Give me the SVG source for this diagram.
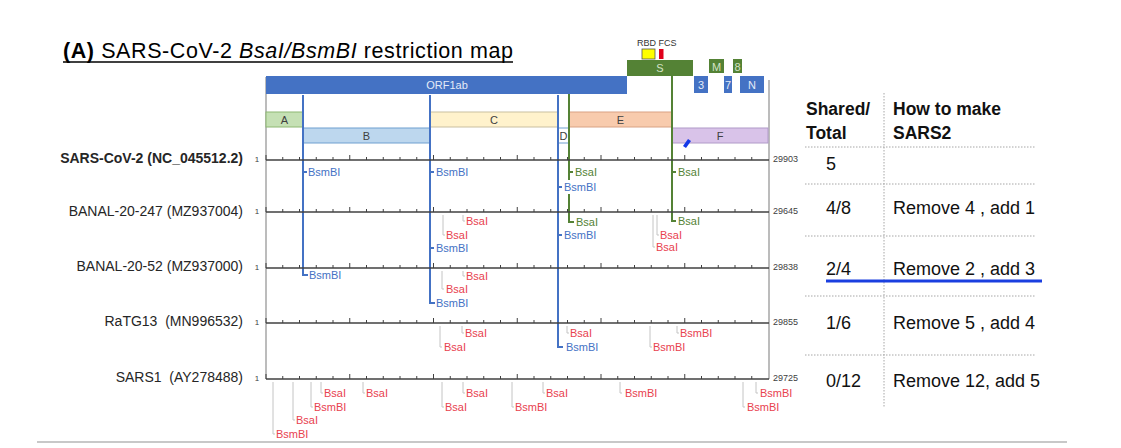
<svg xmlns="http://www.w3.org/2000/svg" xmlns:xlink="http://www.w3.org/1999/xlink" width="1121" height="448" viewBox="0 0 1121 448">
<style>
text{font-family:"Liberation Sans",Arial,sans-serif}
.site{font-size:11px}
.b{fill:#4472C4}
.g{fill:#548235}
.r{fill:#E8424E}
.lb{stroke:#4472C4;stroke-width:2;fill:none}
.lg{stroke:#548235;stroke-width:2;fill:none}
.lr{stroke:#C4C4C4;stroke-width:1;fill:none}
.row{font-size:14px;fill:#262626;text-anchor:end}
.one{font-size:8px;fill:#404040;text-anchor:middle}
.end{font-size:9px;fill:#404040}
.frag{stroke-width:1}
.fl{font-size:11px;fill:#404040;text-anchor:middle}
.gl{font-size:11px;text-anchor:middle}
.th{font-size:17.5px;font-weight:bold;fill:#111}
.td{font-size:18px;fill:#111}
.dot{stroke:#A6A6A6;stroke-width:1;stroke-dasharray:1.5 1.5;fill:none}
</style>
<defs>
<g id="axis">
<path d="M266,0 H769" stroke="#404040" stroke-width="1.5" fill="none"/>
<path d="M266,0v-5 M282.75,0v-3 M299.5,0v-3 M316.25,0v-3 M333,0v-3 M349.75,0v-5 M366.5,0v-3 M383.25,0v-3 M400,0v-3 M416.75,0v-3 M433.5,0v-5 M450.25,0v-3 M467,0v-3 M483.75,0v-3 M500.5,0v-3 M517.25,0v-5 M534,0v-3 M550.75,0v-3 M567.5,0v-3 M584.25,0v-3 M601,0v-5 M617.75,0v-3 M634.5,0v-3 M651.25,0v-3 M668,0v-3 M684.75,0v-5 M701.5,0v-3 M718.25,0v-3 M735,0v-3 M751.75,0v-3" stroke="#404040" stroke-width="1" fill="none"/>
</g>
</defs>
<rect width="1121" height="448" fill="#fff"/>

<g id="title">
<text x="63" y="58" font-size="21.5" fill="#000" textLength="450" lengthAdjust="spacing"><tspan font-weight="bold">(A)</tspan> SARS-CoV-2 <tspan font-style="italic">BsaI/BsmBI</tspan> restriction map</text>
<line x1="63" y1="62" x2="513" y2="62" stroke="#000" stroke-width="1.5"/>
</g>

<g id="frame">
<line x1="266" y1="77" x2="266" y2="379" stroke="#A6A6A6" stroke-width="1.5"/>
<line x1="769" y1="80" x2="769" y2="379" stroke="#A6A6A6" stroke-width="1.5"/>
</g>

<g id="genome-map">
<rect x="266" y="76" width="361" height="18" fill="#4472C4"/>
<text class="gl" x="447" y="89" fill="#E4EBF7">ORF1ab</text>
<rect x="627" y="60" width="66" height="16" fill="#548235"/>
<text class="gl" x="660" y="72" fill="#D3E2C6">S</text>
<rect x="642" y="49" width="13" height="10" fill="#FFFF00" stroke="#555" stroke-width="0.8"/>
<rect x="659" y="49" width="4.5" height="10" fill="#E0001B"/>
<text x="637" y="46" font-size="9" fill="#333">RBD FCS</text>
<rect x="709" y="59" width="15" height="14" fill="#548235"/>
<text class="gl" x="716.5" y="70.5" fill="#D3E2C6">M</text>
<rect x="733" y="59" width="9" height="14" fill="#548235"/>
<text class="gl" x="737.5" y="70.5" fill="#D3E2C6">8</text>
<rect x="694" y="76" width="14" height="17" fill="#4472C4"/>
<text class="gl" x="701" y="89" fill="#E4EBF7">3</text>
<rect x="724" y="76" width="8" height="17" fill="#4472C4"/>
<text class="gl" x="728" y="89" fill="#E4EBF7">7</text>
<rect x="740" y="76" width="24" height="17" fill="#4472C4"/>
<text class="gl" x="752" y="89" fill="#E4EBF7">N</text>

<rect class="frag" x="266" y="112" width="37" height="15" fill="#C5E0B4" stroke="#8DB873"/>
<text class="fl" x="284.5" y="124">A</text>
<rect class="frag" x="303" y="128" width="127" height="15" fill="#BDD7EE" stroke="#6F9FD0"/>
<text class="fl" x="366.5" y="140">B</text>
<rect class="frag" x="430" y="112" width="128" height="15" fill="#FFF2CC" stroke="#C9BFA0"/>
<text class="fl" x="494" y="124">C</text>
<rect class="frag" x="558" y="128" width="11" height="15" fill="#FFFFFF" stroke="#6F9FD0"/>
<text class="fl" x="563.5" y="140">D</text>
<rect class="frag" x="569" y="112" width="103" height="15" fill="#F8CBAD" stroke="#D9A283"/>
<text class="fl" x="620.5" y="124">E</text>
<rect class="frag" x="672" y="128" width="96" height="15" fill="#D9C3E9" stroke="#B09AC8"/>
<text class="fl" x="720" y="140">F</text>
<path d="M683,146 L686,148 L691,141 L688,139 Z" fill="#1438E8"/>
</g>

<g id="connectors">
<path class="lb" d="M303,95 V275 H308 M303,172 H307"/>
<path class="lb" d="M430,95 V303 H435 M430,172 H434 M430,248 H434"/>
<path class="lb" d="M558,95 V347 H563 M558,187 H562 M558,235 H562"/>
<path class="lg" d="M569,94 V180 M569,194 V222 H574 M569,172 H573"/>
<path class="lg" d="M672,76 V221 H676 M672,172 H676"/>
</g>

<g id="row-sars-cov-2">
<use xlink:href="#axis" href="#axis" y="160"/>
<text class="row" x="243" y="163" font-weight="bold" font-size="13.5">SARS-CoV-2 (NC_045512.2)</text>
<text class="one" x="257" y="162">1</text>
<text class="end" x="773" y="162">29903</text>
<text class="site b" x="308" y="176">BsmBI</text>
<text class="site b" x="436" y="176">BsmBI</text>
<text class="site b" x="564" y="191">BsmBI</text>
<text class="site g" x="575" y="176">BsaI</text>
<text class="site g" x="678" y="176">BsaI</text>
</g>

<g id="row-banal-20-247">
<use xlink:href="#axis" href="#axis" y="212"/>
<text class="row" x="243" y="216">BANAL-20-247 (MZ937004)</text>
<text class="one" x="257" y="214">1</text>
<text class="end" x="773" y="214">29645</text>
<path class="lr" d="M463,215 V221 H465 M443,215 V235 H445 M657,215 V235 H659 M653,215 V247 H655"/>
<text class="site r" x="466" y="225">BsaI</text>
<text class="site r" x="446" y="239">BsaI</text>
<text class="site b" x="436" y="252">BsmBI</text>
<text class="site g" x="576" y="226">BsaI</text>
<text class="site b" x="564" y="239">BsmBI</text>
<text class="site r" x="660" y="239">BsaI</text>
<text class="site r" x="656" y="251">BsaI</text>
<text class="site g" x="678" y="225">BsaI</text>
</g>

<g id="row-banal-20-52">
<use xlink:href="#axis" href="#axis" y="268"/>
<text class="row" x="243" y="271">BANAL-20-52 (MZ937000)</text>
<text class="one" x="257" y="270">1</text>
<text class="end" x="773" y="270">29838</text>
<path class="lr" d="M463,271 V276 H465 M442,271 V289 H444"/>
<text class="site b" x="309" y="279">BsmBI</text>
<text class="site r" x="466" y="280">BsaI</text>
<text class="site r" x="446" y="293">BsaI</text>
<text class="site b" x="436" y="307">BsmBI</text>
</g>

<g id="row-ratg13">
<use xlink:href="#axis" href="#axis" y="323"/>
<text class="row" x="243" y="326" xml:space="preserve">RaTG13  (MN996532)</text>
<text class="one" x="257" y="325">1</text>
<text class="end" x="773" y="325">29855</text>
<path class="lr" d="M462,326 V333 H464 M440,326 V347 H442 M567,326 V333 H569 M677,326 V333 H679 M650,326 V347 H652"/>
<text class="site r" x="465" y="337">BsaI</text>
<text class="site r" x="444" y="351">BsaI</text>
<text class="site r" x="570" y="337">BsaI</text>
<text class="site b" x="566" y="351">BsmBI</text>
<text class="site r" x="680" y="337">BsmBI</text>
<text class="site r" x="653" y="351">BsmBI</text>
</g>

<g id="row-sars1">
<use xlink:href="#axis" href="#axis" y="379"/>
<text class="row" x="243" y="382" xml:space="preserve">SARS1  (AY278488)</text>
<text class="one" x="257" y="381">1</text>
<text class="end" x="773" y="381">29725</text>
<path class="lr" d="M273,382 V434 H275 M293,382 V420 H295 M311,382 V407 H313 M321,382 V393 H323 M363,382 V393 H365 M442,382 V407 H444 M463,382 V393 H465 M512,382 V407 H514 M543,382 V393 H545 M620,382 V393 H622 M743,382 V407 H745 M756,382 V393 H758"/>
<text class="site r" x="276" y="438">BsmBI</text>
<text class="site r" x="296" y="424">BsaI</text>
<text class="site r" x="314" y="411">BsmBI</text>
<text class="site r" x="324" y="397">BsaI</text>
<text class="site r" x="366" y="397">BsaI</text>
<text class="site r" x="445" y="411">BsaI</text>
<text class="site r" x="466" y="397">BsaI</text>
<text class="site r" x="515" y="411">BsmBI</text>
<text class="site r" x="546" y="397">BsaI</text>
<text class="site r" x="625" y="397">BsmBI</text>
<text class="site r" x="747" y="411">BsmBI</text>
<text class="site r" x="760" y="397">BsmBI</text>
</g>

<g id="table">
<path class="dot" d="M884,93 V407"/>
<path class="dot" d="M805,147 H1035 M805,184 H1035 M805,236 H1035 M805,296 H1035 M805,355 H1035"/>
<text class="th" x="806" y="115">Shared/</text>
<text class="th" x="806" y="139">Total</text>
<text class="th" x="893" y="115">How to make</text>
<text class="th" x="893" y="139">SARS2</text>
<text class="td" x="826" y="170">5</text>
<text class="td" x="826" y="214">4/8</text>
<text class="td" x="893" y="214">Remove 4 , add 1</text>
<text class="td" x="826" y="275">2/4</text>
<text class="td" x="893" y="275">Remove 2 , add 3</text>
<line x1="826" y1="281" x2="1042" y2="281" stroke="#1a3fe0" stroke-width="3"/>
<text class="td" x="826" y="329">1/6</text>
<text class="td" x="893" y="329">Remove 5 , add 4</text>
<text class="td" x="826" y="387">0/12</text>
<text class="td" x="893" y="387">Remove 12, add 5</text>
</g>

<line x1="37" y1="442" x2="1067" y2="442" stroke="#C8C8C8" stroke-width="2"/>
</svg>
